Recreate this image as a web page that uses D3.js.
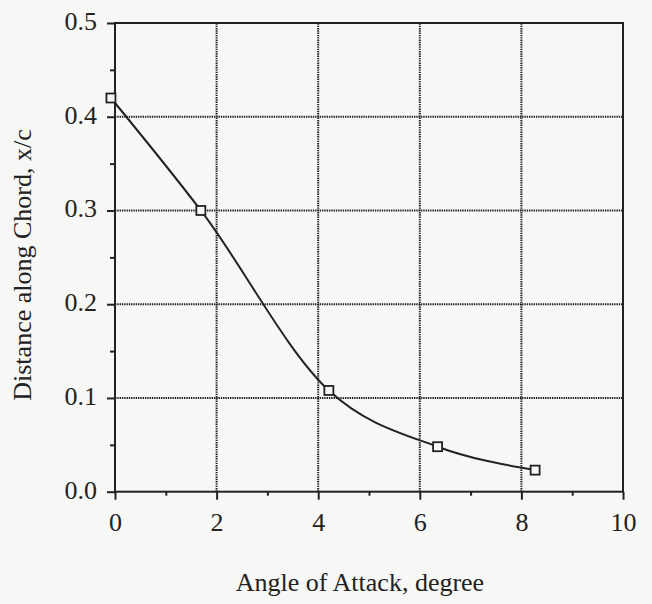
<!DOCTYPE html>
<html>
<head>
<meta charset="utf-8">
<script src="https://cdn.jsdelivr.net/npm/d3@7"></script>
<style>
  html, body { margin: 0; padding: 0; background: #f7f7f5; }
  svg { display: block; }
  svg text { font-family: "Liberation Serif", "Times New Roman", serif !important; fill: #222; }
</style>
</head>
<body>
<svg id="chart" width="652" height="604"></svg>
<script>
// Angle of attack (degree) and measured position along the chord (x/c)
const angleOfAttack = [-0.08, 1.69, 4.21, 6.35, 8.27];
const chordPosition = [0.42, 0.30, 0.108, 0.048, 0.023];

const xTicks = [0, 2, 4, 6, 8, 10];
const xMinorTicks = [1, 3, 5, 7, 9];
const yTicks = [0.0, 0.1, 0.2, 0.3, 0.4, 0.5];
const yMinorTicks = [0.05, 0.15, 0.25, 0.35, 0.45];

const xTitle = "Angle of Attack, degree";
const yTitle = "Distance along Chord, x/c";

const svg = d3.select("#chart");
const ink = "#222";
const serif = '"Liberation Serif", "Times New Roman", serif';

const x = d3.scaleLinear().domain([0, 10]).range([115, 623]);
const y = d3.scaleLinear().domain([0, 0.5]).range([491.7, 23]);

// dotted grid
const grid = svg.append("g");
grid.selectAll("line.gx").data(xTicks.slice(1, -1)).join("line")
  .attr("x1", d => x(d)).attr("x2", d => x(d))
  .attr("y1", y(0)).attr("y2", y(0.5))
  .attr("stroke", ink).attr("stroke-width", 2).attr("stroke-dasharray", "1.4,0.9");
grid.selectAll("line.gy").data(yTicks.slice(1, -1)).join("line")
  .attr("y1", d => y(d)).attr("y2", d => y(d))
  .attr("x1", x(0)).attr("x2", x(10))
  .attr("stroke", ink).attr("stroke-width", 2).attr("stroke-dasharray", "1.4,0.9");

// frame
svg.append("rect")
  .attr("x", x(0)).attr("y", y(0.5))
  .attr("width", x(10) - x(0)).attr("height", y(0) - y(0.5))
  .attr("fill", "none").attr("stroke", ink).attr("stroke-width", 2);

// axes
const xAxis = d3.axisBottom(x).tickValues(xTicks).tickFormat(d3.format("d"))
  .tickSize(8).tickPadding(13);
const gx = svg.append("g").attr("transform", `translate(0,${y(0)})`).call(xAxis)
  .attr("font-family", serif).attr("font-size", 26);
gx.select(".domain").remove();
gx.selectAll(".tick line").attr("stroke", ink).attr("stroke-width", 2);
gx.selectAll(".tick text").attr("fill", ink);

const xMinor = d3.axisBottom(x).tickValues(xMinorTicks).tickSize(4).tickFormat("");
const gxm = svg.append("g").attr("transform", `translate(0,${y(0)})`).call(xMinor);
gxm.select(".domain").remove();
gxm.selectAll(".tick line").attr("stroke", ink).attr("stroke-width", 2);

const yAxis = d3.axisLeft(y).tickValues(yTicks).tickFormat(d3.format(".1f"))
  .tickSize(8).tickPadding(10);
const gy = svg.append("g").attr("transform", `translate(${x(0)},0)`).call(yAxis)
  .attr("font-family", serif).attr("font-size", 26);
gy.select(".domain").remove();
gy.selectAll(".tick line").attr("stroke", ink).attr("stroke-width", 2);
gy.selectAll(".tick text").attr("fill", ink).attr("dy", "0.25em");

const yMinor = d3.axisLeft(y).tickValues(yMinorTicks).tickSize(5).tickFormat("");
const gym = svg.append("g").attr("transform", `translate(${x(0)},0)`).call(yMinor);
gym.select(".domain").remove();
gym.selectAll(".tick line").attr("stroke", ink).attr("stroke-width", 2);

// fitted curve
const pts = angleOfAttack.map((a, i) => [a, chordPosition[i]]);
const line = d3.line().x(d => x(d[0])).y(d => y(d[1])).curve(d3.curveMonotoneX);
svg.append("path").datum(pts)
  .attr("d", line).attr("fill", "none")
  .attr("stroke", ink).attr("stroke-width", 2);

// square markers
svg.selectAll("rect.pt").data(pts).join("rect")
  .attr("class", "pt")
  .attr("x", d => x(d[0]) - 4.5).attr("y", d => y(d[1]) - 4.5)
  .attr("width", 9).attr("height", 9)
  .attr("fill", "#f7f7f5").attr("stroke", ink).attr("stroke-width", 1.8);

// axis titles
svg.append("text")
  .attr("x", 360).attr("y", 591)
  .attr("text-anchor", "middle").attr("font-size", 26)
  .text(xTitle);
svg.append("text")
  .attr("transform", `translate(31,265) rotate(-90)`)
  .attr("text-anchor", "middle").attr("font-size", 26)
  .text(yTitle);
</script>
</body>
</html>
